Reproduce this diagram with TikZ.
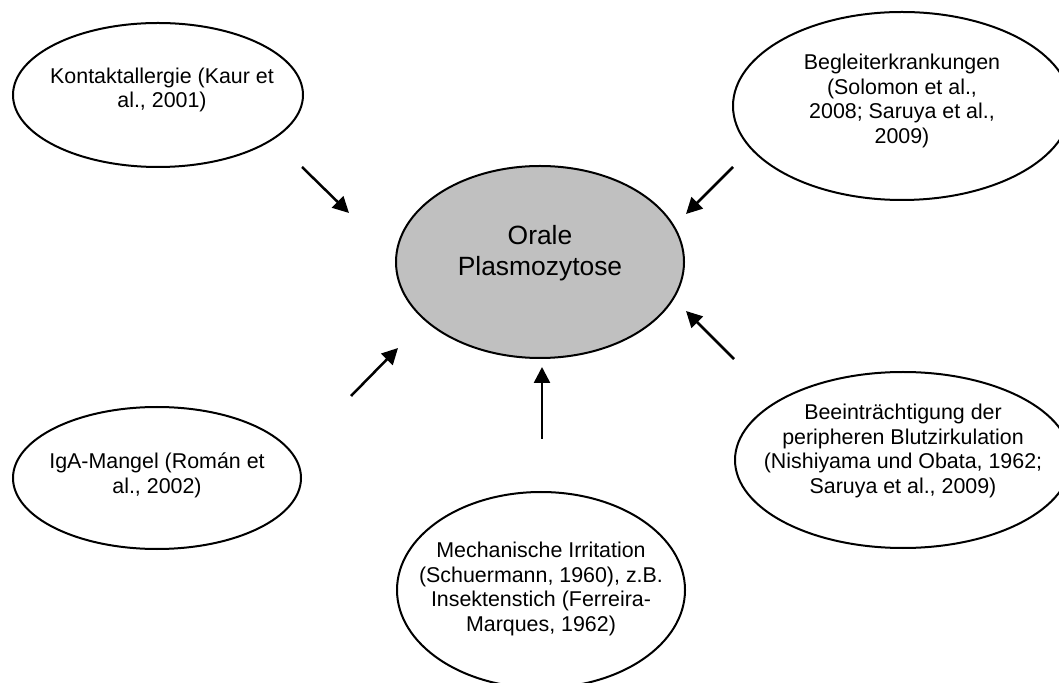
\documentclass[tikz,border=0pt]{standalone}
\usepackage{fontspec}
\setmainfont{Liberation Sans}
\usetikzlibrary{arrows.meta,shapes.geometric}
\definecolor{ovalgrau}{HTML}{C0C0C0}

\begin{document}
\begin{tikzpicture}[x=0.5pt, y=-0.5pt,
    oval/.style={ellipse, draw, line width=1pt, inner sep=0pt},
    txt/.style={align=center, inner sep=0pt, font=\fontsize{10.7}{12.4}\selectfont},
    pfeil/.style={line width=1.25pt, -{Triangle[length=8pt, width=8pt]}}]
    \useasboundingbox (0,0) rectangle (1059,683);
    \clip (0,0) rectangle (1059,683);

    % Mitte
    \node[oval, fill=ovalgrau, minimum width=144pt, minimum height=96pt] (orale) at (540,262) {};
    \node[txt, font=\fontsize{13.2}{15.2}\selectfont] (oraletxt) at (540,253) {Orale\\Plasmozytose};

    % Ursachen rundherum
    \node[oval, minimum width=145pt, minimum height=72pt] (kontakt) at (158,95) {};
    \node[txt] (kontakttxt) at (162,90) {Kontaktallergie (Kaur et\\al., 2001)};

    \node[oval, minimum width=169pt, minimum height=94pt] (begleit) at (902,106) {};
    \node[txt] (begleittxt) at (902,101) {Begleiterkrankungen\\(Solomon et al.,\\2008; Saruya et al.,\\2009)};

    \node[oval, minimum width=144pt, minimum height=71pt] (iga) at (157,478) {};
    \node[txt] (igatxt) at (157,475) {IgA-Mangel (Román et\\al., 2002)};

    \node[oval, minimum width=144pt, minimum height=98pt] (mech) at (541,590) {};
    \node[txt] (mechtxt) at (541,589) {Mechanische Irritation\\(Schuermann, 1960), z.B.\\Insektenstich (Ferreira-\\Marques, 1962)};

    \node[oval, minimum width=168pt, minimum height=88pt] (blut) at (903,460) {};
    \node[txt] (bluttxt) at (903,451) {Beeinträchtigung der\\peripheren Blutzirkulation\\(Nishiyama und Obata, 1962;\\Saruya et al., 2009)};

    % Pfeile
    \coordinate (kontakt-s) at (302,167);  \coordinate (kontakt-e) at (349,213);
    \coordinate (begleit-s) at (733,167);  \coordinate (begleit-e) at (686,214);
    \coordinate (iga-s) at (351,396);      \coordinate (iga-e) at (398,348);
    \coordinate (mech-s) at (542,439);     \coordinate (mech-e) at (542,367);
    \coordinate (blut-s) at (734,359);     \coordinate (blut-e) at (686,311);
    \foreach \n in {kontakt,begleit,iga,mech,blut}
        \draw[pfeil] (\n-s) -- (\n-e);
\end{tikzpicture}
\end{document}
